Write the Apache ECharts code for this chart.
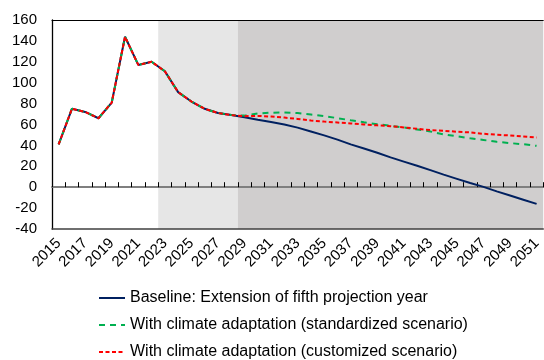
<!DOCTYPE html>
<html>
<head>
<meta charset="utf-8">
<script src="https://cdn.jsdelivr.net/npm/echarts@6/dist/echarts.min.js"></script>
<style>html,body{margin:0;padding:0;background:#fff}#c{width:544px;height:360px}</style>
</head>
<body>
<div id="c"></div>
<script>
var years = [];
for (var y = 2015; y <= 2051; y++) years.push(String(y));

var baseline = [41, 75, 72, 66, 81, 144, 117, 120, 111, 91, 82, 75, 71, 69,
  67, 64.5, 62.4, 60, 57, 53.3, 49.6, 45.5, 41, 37, 33, 28.5, 24.5, 20.5, 16.3, 12, 8, 4, 0.3, -4, -8, -12, -16];
var standardized = [41, 75, 72, 66, 81, 144, 117, 120, 111, 91, 82, 75, 71, 69,
  68.5, 70.5, 71.3, 71.6, 71, 69.6, 68, 66.1, 64, 62.1, 60.3, 58.7, 57.1, 55.3, 53.3, 50.6, 48.7, 46.8, 45.2, 43.4, 42.2, 41.1, 39.6];
var customized = [41, 75, 72, 66, 81, 144, 117, 120, 111, 91, 82, 75, 71, 69,
  68, 68.2, 67.6, 66.6, 65.3, 63.8, 62.8, 61.9, 61, 60, 59.2, 58.4, 57.2, 55.9, 54.7, 54, 53.1, 52.4, 51.1, 50.2, 49.5, 48.6, 47.6];

var seriesNames = [
  'Baseline: Extension of fifth projection year',
  'With climate adaptation (standardized scenario)',
  'With climate adaptation (customized scenario)'
];
var shadeStart = ['2023', '2029'];
var shadeEnd = ['2028', '2051'];
var yMin = -40, yMax = 160, yStep = 20;

var shadeColors = ['#E6E6E6', '#D0CECE'];
var shadeData = shadeStart.map(function (s, i) {
  return [years.indexOf(s), years.indexOf(shadeEnd[i]), i];
});

var font = 'Liberation Sans, Arial, sans-serif';
var chart = echarts.init(document.getElementById('c'), null, {renderer: 'canvas'});
chart.setOption({
  animation: false,
  backgroundColor: '#fff',
  grid: {left: 52, top: 20, right: -1, bottom: 131, containLabel: false},
  xAxis: [{
    type: 'category', data: years, position: 'bottom', boundaryGap: true,
    axisLine: {onZero: false, lineStyle: {color: '#404040', width: 1.5}},
    axisTick: {show: false},
    axisLabel: {interval: 1, rotate: 45, fontSize: 15, color: '#000', fontFamily: font, margin: 12},
    splitLine: {show: false}
  }, {
    type: 'category', data: years, position: 'bottom', boundaryGap: true,
    axisLine: {onZero: true, lineStyle: {color: '#7f7f7f', width: 2}},
    axisTick: {show: true, inside: true, length: 5, interval: 0, lineStyle: {color: '#000', width: 1}},
    axisLabel: {show: false},
    splitLine: {show: false}
  }, {
    type: 'category', data: years, position: 'top', boundaryGap: true,
    axisLine: {onZero: false, lineStyle: {color: '#000', width: 1}},
    axisTick: {show: false}, axisLabel: {show: false}, splitLine: {show: false}
  }],
  yAxis: {
    type: 'value', min: yMin, max: yMax, interval: yStep,
    axisLine: {show: true, lineStyle: {color: '#000', width: 1.3}},
    axisTick: {show: false},
    splitLine: {show: false},
    axisLabel: {fontSize: 15, color: '#000', fontFamily: font, margin: 15}
  },
  legend: {
    orient: 'vertical', left: 93, top: 285, height: 120, itemWidth: 26, itemHeight: 14, itemGap: 11,
    itemStyle: {opacity: 0},
    textStyle: {fontSize: 16, color: '#000', fontFamily: font},
    data: seriesNames
  },
  series: [{
    type: 'custom', xAxisIndex: 0, z: -1, silent: true, clip: false,
    data: shadeData,
    encode: {x: [0, 1]},
    renderItem: function (params, api) {
      var s = api.value(0), e = api.value(1), k = api.value(2);
      var bw = api.size([1, 0])[0];
      var p1 = api.coord([s, yMax]);
      var p2 = api.coord([e, yMin]);
      return {
        type: 'rect',
        shape: {x: p1[0] - bw / 2, y: p1[1], width: p2[0] - p1[0] + bw, height: p2[1] - p1[1]},
        style: {fill: shadeColors[k]}
      };
    }
  }, {
    name: seriesNames[0], type: 'line', data: baseline, xAxisIndex: 0, symbol: 'none',
    lineStyle: {color: '#002060', width: 2}, itemStyle: {color: '#002060'}
  }, {
    name: seriesNames[1], type: 'line', data: standardized, xAxisIndex: 0, symbol: 'none',
    lineStyle: {color: '#00B050', width: 2, type: [6, 5]}, itemStyle: {color: '#00B050'}
  }, {
    name: seriesNames[2], type: 'line', data: customized, xAxisIndex: 0, symbol: 'none',
    lineStyle: {color: '#FF0000', width: 2, type: [4, 2.5]}, itemStyle: {color: '#FF0000'}
  }]
});
</script>
</body>
</html>
